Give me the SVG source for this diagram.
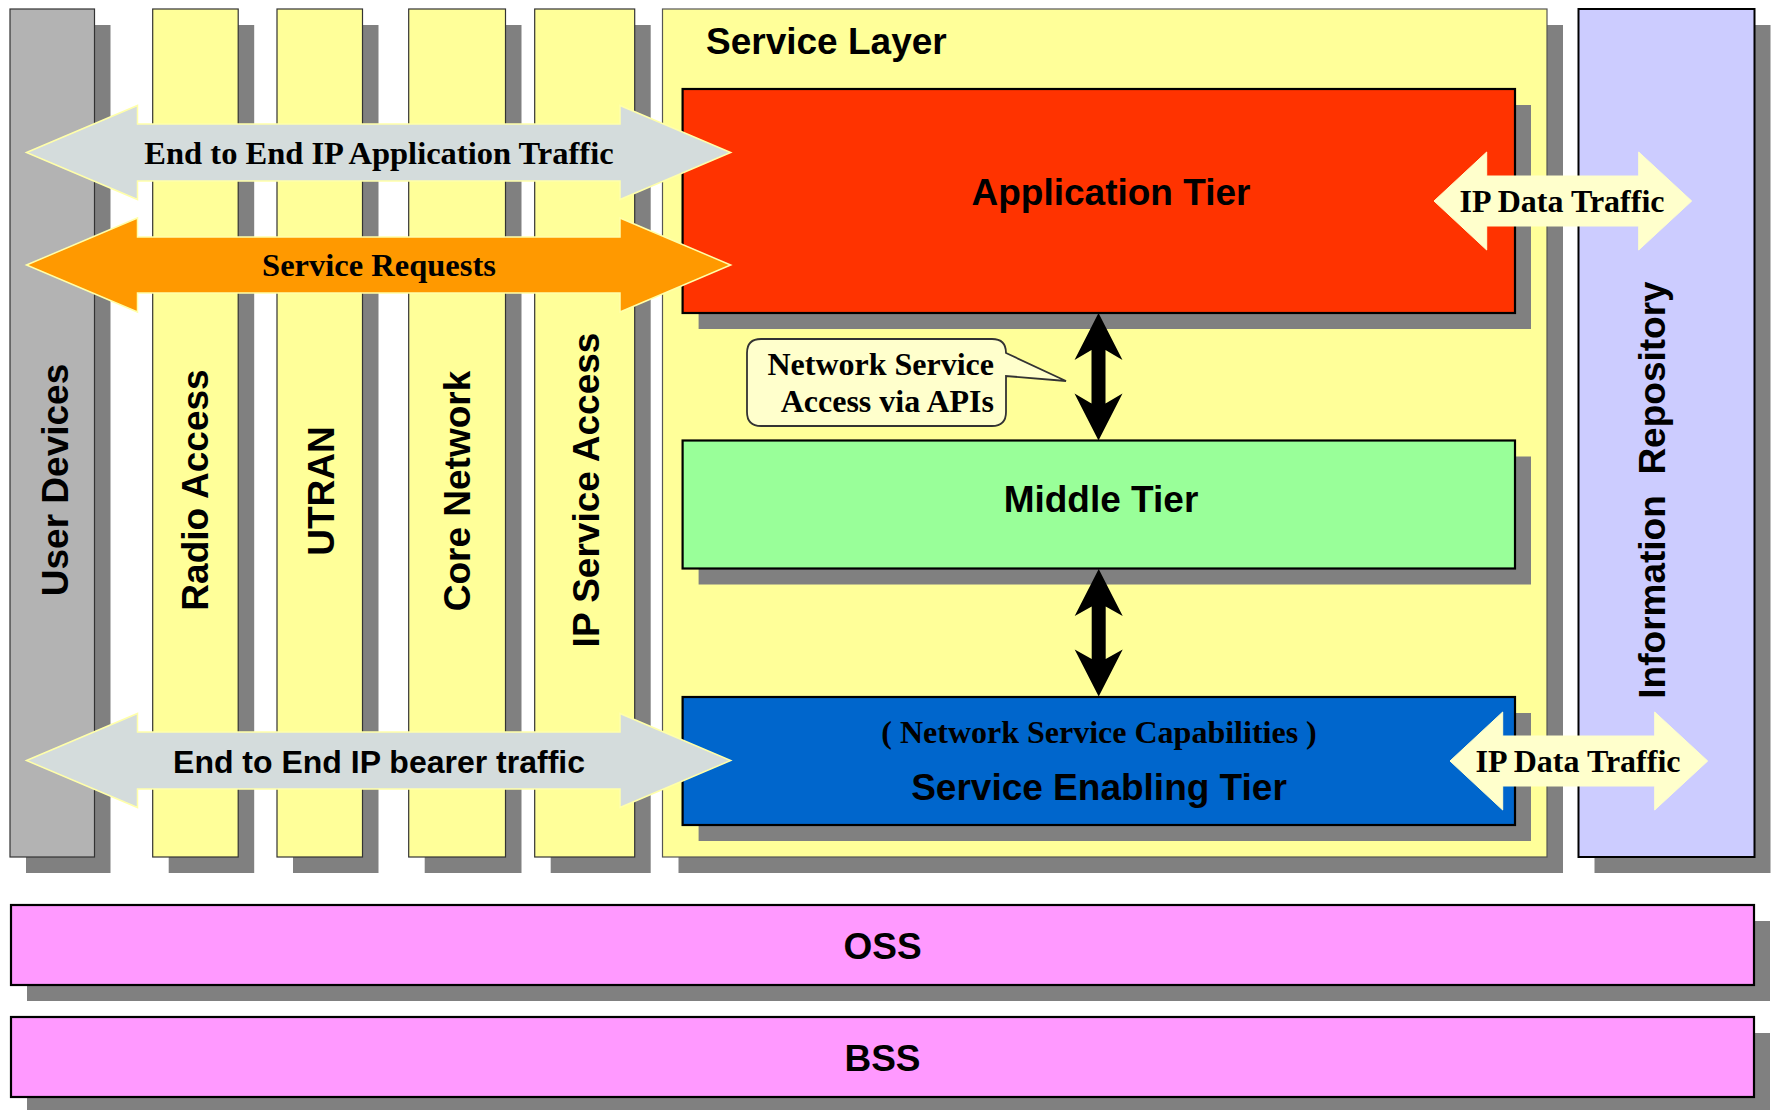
<svg xmlns="http://www.w3.org/2000/svg" width="1772" height="1110" viewBox="0 0 1772 1110">
<style>
.bg{fill:#ffffff}
.shadow{fill:#808080}
.col{fill:#FFFF99;stroke:#333333;stroke-width:1.2}
.gray{fill:#B3B3B3;stroke:#333333;stroke-width:1.2}
.tier{stroke:#000000;stroke-width:2.2}
.sans{font-family:"Liberation Sans",Arial,Helvetica,sans-serif;font-weight:bold;fill:#000000}
.serif{font-family:"Liberation Serif","Times New Roman",Times,serif;font-weight:bold;fill:#000000}
.bigarrow{stroke:#FFFFAA;stroke-width:1.5;stroke-linejoin:miter}
.dataarrow{fill:#FFFFCC;stroke:#FFFFCC;stroke-width:1}
.varrow{fill:#000000}
</style>
<rect class="bg" x="0" y="0" width="1772" height="1110"/>

<g id="user-devices">
  <rect class="shadow" x="26" y="25" width="84.5" height="848"/>
  <rect class="gray" x="10" y="9" width="84.5" height="848"/>
  <text class="sans" font-size="37" text-anchor="middle" transform="translate(68,480) rotate(-90)">User Devices</text>
</g>
<g id="radio-access">
  <rect class="shadow" x="168.7" y="25" width="85.5" height="848"/>
  <rect class="col" x="152.7" y="9" width="85.5" height="848"/>
  <text class="sans" font-size="37" text-anchor="middle" transform="translate(208,490) rotate(-90)">Radio Access</text>
</g>
<g id="utran">
  <rect class="shadow" x="293" y="25" width="85.5" height="848"/>
  <rect class="col" x="277" y="9" width="85.5" height="848"/>
  <text class="sans" font-size="37" text-anchor="middle" transform="translate(334,491) rotate(-90)">UTRAN</text>
</g>
<g id="core-network">
  <rect class="shadow" x="424.7" y="25" width="96.8" height="848"/>
  <rect class="col" x="408.7" y="9" width="96.8" height="848"/>
  <text class="sans" font-size="37" text-anchor="middle" transform="translate(470,491) rotate(-90)">Core Network</text>
</g>
<g id="ip-service-access">
  <rect class="shadow" x="550.7" y="25" width="100" height="848"/>
  <rect class="col" x="534.7" y="9" width="100" height="848"/>
  <text class="sans" font-size="37" text-anchor="middle" transform="translate(599,490) rotate(-90)">IP Service Access</text>
</g>
<g id="service-layer">
  <rect class="shadow" x="678.5" y="25" width="884.5" height="848"/>
  <rect fill="#FFFF99" stroke="#555555" stroke-width="1.2" x="662.5" y="9" width="884.5" height="848"/>
  <text class="sans" font-size="37" x="706" y="54">Service Layer</text>
</g>
<g id="information-repository">
  <rect class="shadow" x="1594.5" y="25" width="176" height="848"/>
  <rect fill="#CCCCFF" stroke="#000000" stroke-width="2" x="1578.5" y="9" width="176" height="848"/>
  <text class="sans" font-size="37" text-anchor="middle" xml:space="preserve" transform="translate(1665,490) rotate(-90)">Information  Repository</text>
</g>
<g id="application-tier">
  <rect class="shadow" x="698.6" y="105" width="832.4" height="224"/>
  <rect class="tier" fill="#FF3300" x="682.6" y="89" width="832.4" height="224"/>
  <text class="sans" font-size="37" text-anchor="middle" x="1111" y="205">Application Tier</text>
</g>
<g id="middle-tier">
  <rect class="shadow" x="698.6" y="456.5" width="832.4" height="128"/>
  <rect class="tier" fill="#99FF99" x="682.6" y="440.5" width="832.4" height="128"/>
  <text class="sans" font-size="37" text-anchor="middle" x="1101" y="512">Middle Tier</text>
</g>
<g id="service-enabling-tier">
  <rect class="shadow" x="698.6" y="713" width="832.4" height="128"/>
  <rect class="tier" fill="#0066CC" x="682.6" y="697" width="832.4" height="128"/>
  <text class="serif" font-size="32" text-anchor="middle" x="1099" y="743">( Network Service Capabilities )</text>
  <text class="sans" font-size="37" text-anchor="middle" x="1099" y="800">Service Enabling Tier</text>
</g>
<g id="oss">
  <rect class="shadow" x="27" y="921" width="1743" height="80"/>
  <rect class="tier" fill="#FF99FF" x="11" y="905" width="1743" height="80"/>
  <text class="sans" font-size="37" text-anchor="middle" x="882.5" y="959">OSS</text>
</g>
<g id="bss">
  <rect class="shadow" x="27" y="1033" width="1743" height="80"/>
  <rect class="tier" fill="#FF99FF" x="11" y="1017" width="1743" height="80"/>
  <text class="sans" font-size="37" text-anchor="middle" x="882.5" y="1070.5">BSS</text>
</g>
<g id="api-callout">
  <path fill="#FFFFCC" stroke="#333333" stroke-width="1.8" d="M761,339 H992 Q1006,339 1006,353 L1066,381 L1006,376 V412 Q1006,426 992,426 H761 Q747,426 747,412 V353 Q747,339 761,339 Z"/>
  <text class="serif" font-size="32" text-anchor="end" x="994" y="375">Network Service</text>
  <text class="serif" font-size="32" text-anchor="end" x="994" y="412">Access via APIs</text>
</g>

<g id="connectors">
  <g id="app-traffic">
    <path class="bigarrow" fill="#D4DCDC" d="M26.5,152.5 L137.5,105.5 V124 H620 V105.5 L730.7,152.5 L620,199.5 V181 H137.5 V199.5 Z"/>
    <text class="serif" font-size="32.5" text-anchor="middle" x="379" y="164">End to End IP Application Traffic</text>
  </g>
  <g id="service-requests">
    <path class="bigarrow" fill="#FF9900" d="M26.5,265 L137.5,218 V237 H620 V218 L730.7,265 L620,312 V293 H137.5 V312 Z"/>
    <text class="serif" font-size="32.5" text-anchor="middle" x="379" y="276">Service Requests</text>
  </g>
  <g id="bearer-traffic">
    <path class="bigarrow" fill="#D4DCDC" d="M26.5,760.5 L137.5,713.5 V732 H620 V713.5 L730.7,760.5 L620,807.5 V789 H137.5 V807.5 Z"/>
    <text class="sans" font-size="32" text-anchor="middle" x="379" y="773">End to End IP bearer traffic</text>
  </g>
  <g id="ip-data-top">
    <path class="dataarrow" d="M1434,201 L1486.7,152 V176 H1638.7 V152 L1691.7,201 L1638.7,250 V226 H1486.7 V250 Z"/>
    <text class="serif" font-size="32" text-anchor="middle" x="1562" y="212">IP Data Traffic</text>
  </g>
  <g id="ip-data-bottom">
    <path class="dataarrow" d="M1450,761 L1502.7,712 V736 H1654.7 V712 L1707.7,761 L1654.7,810 V786 H1502.7 V810 Z"/>
    <text class="serif" font-size="32" text-anchor="middle" x="1578" y="772">IP Data Traffic</text>
  </g>
  <path id="app-middle" class="varrow" d="M1098.5,313 L1122.5,360 L1105.5,350 V403.5 L1122.5,393.5 L1098.5,440.5 L1074.5,393.5 L1091.5,403.5 V350 L1074.5,360 Z"/>
  <path id="middle-enabling" class="varrow" d="M1098.7,569 L1122.7,616 L1105.7,606.5 V659 L1122.7,649.5 L1098.7,696.5 L1074.7,649.5 L1091.7,659 V606.5 L1074.7,616 Z"/>
</g>
</svg>
